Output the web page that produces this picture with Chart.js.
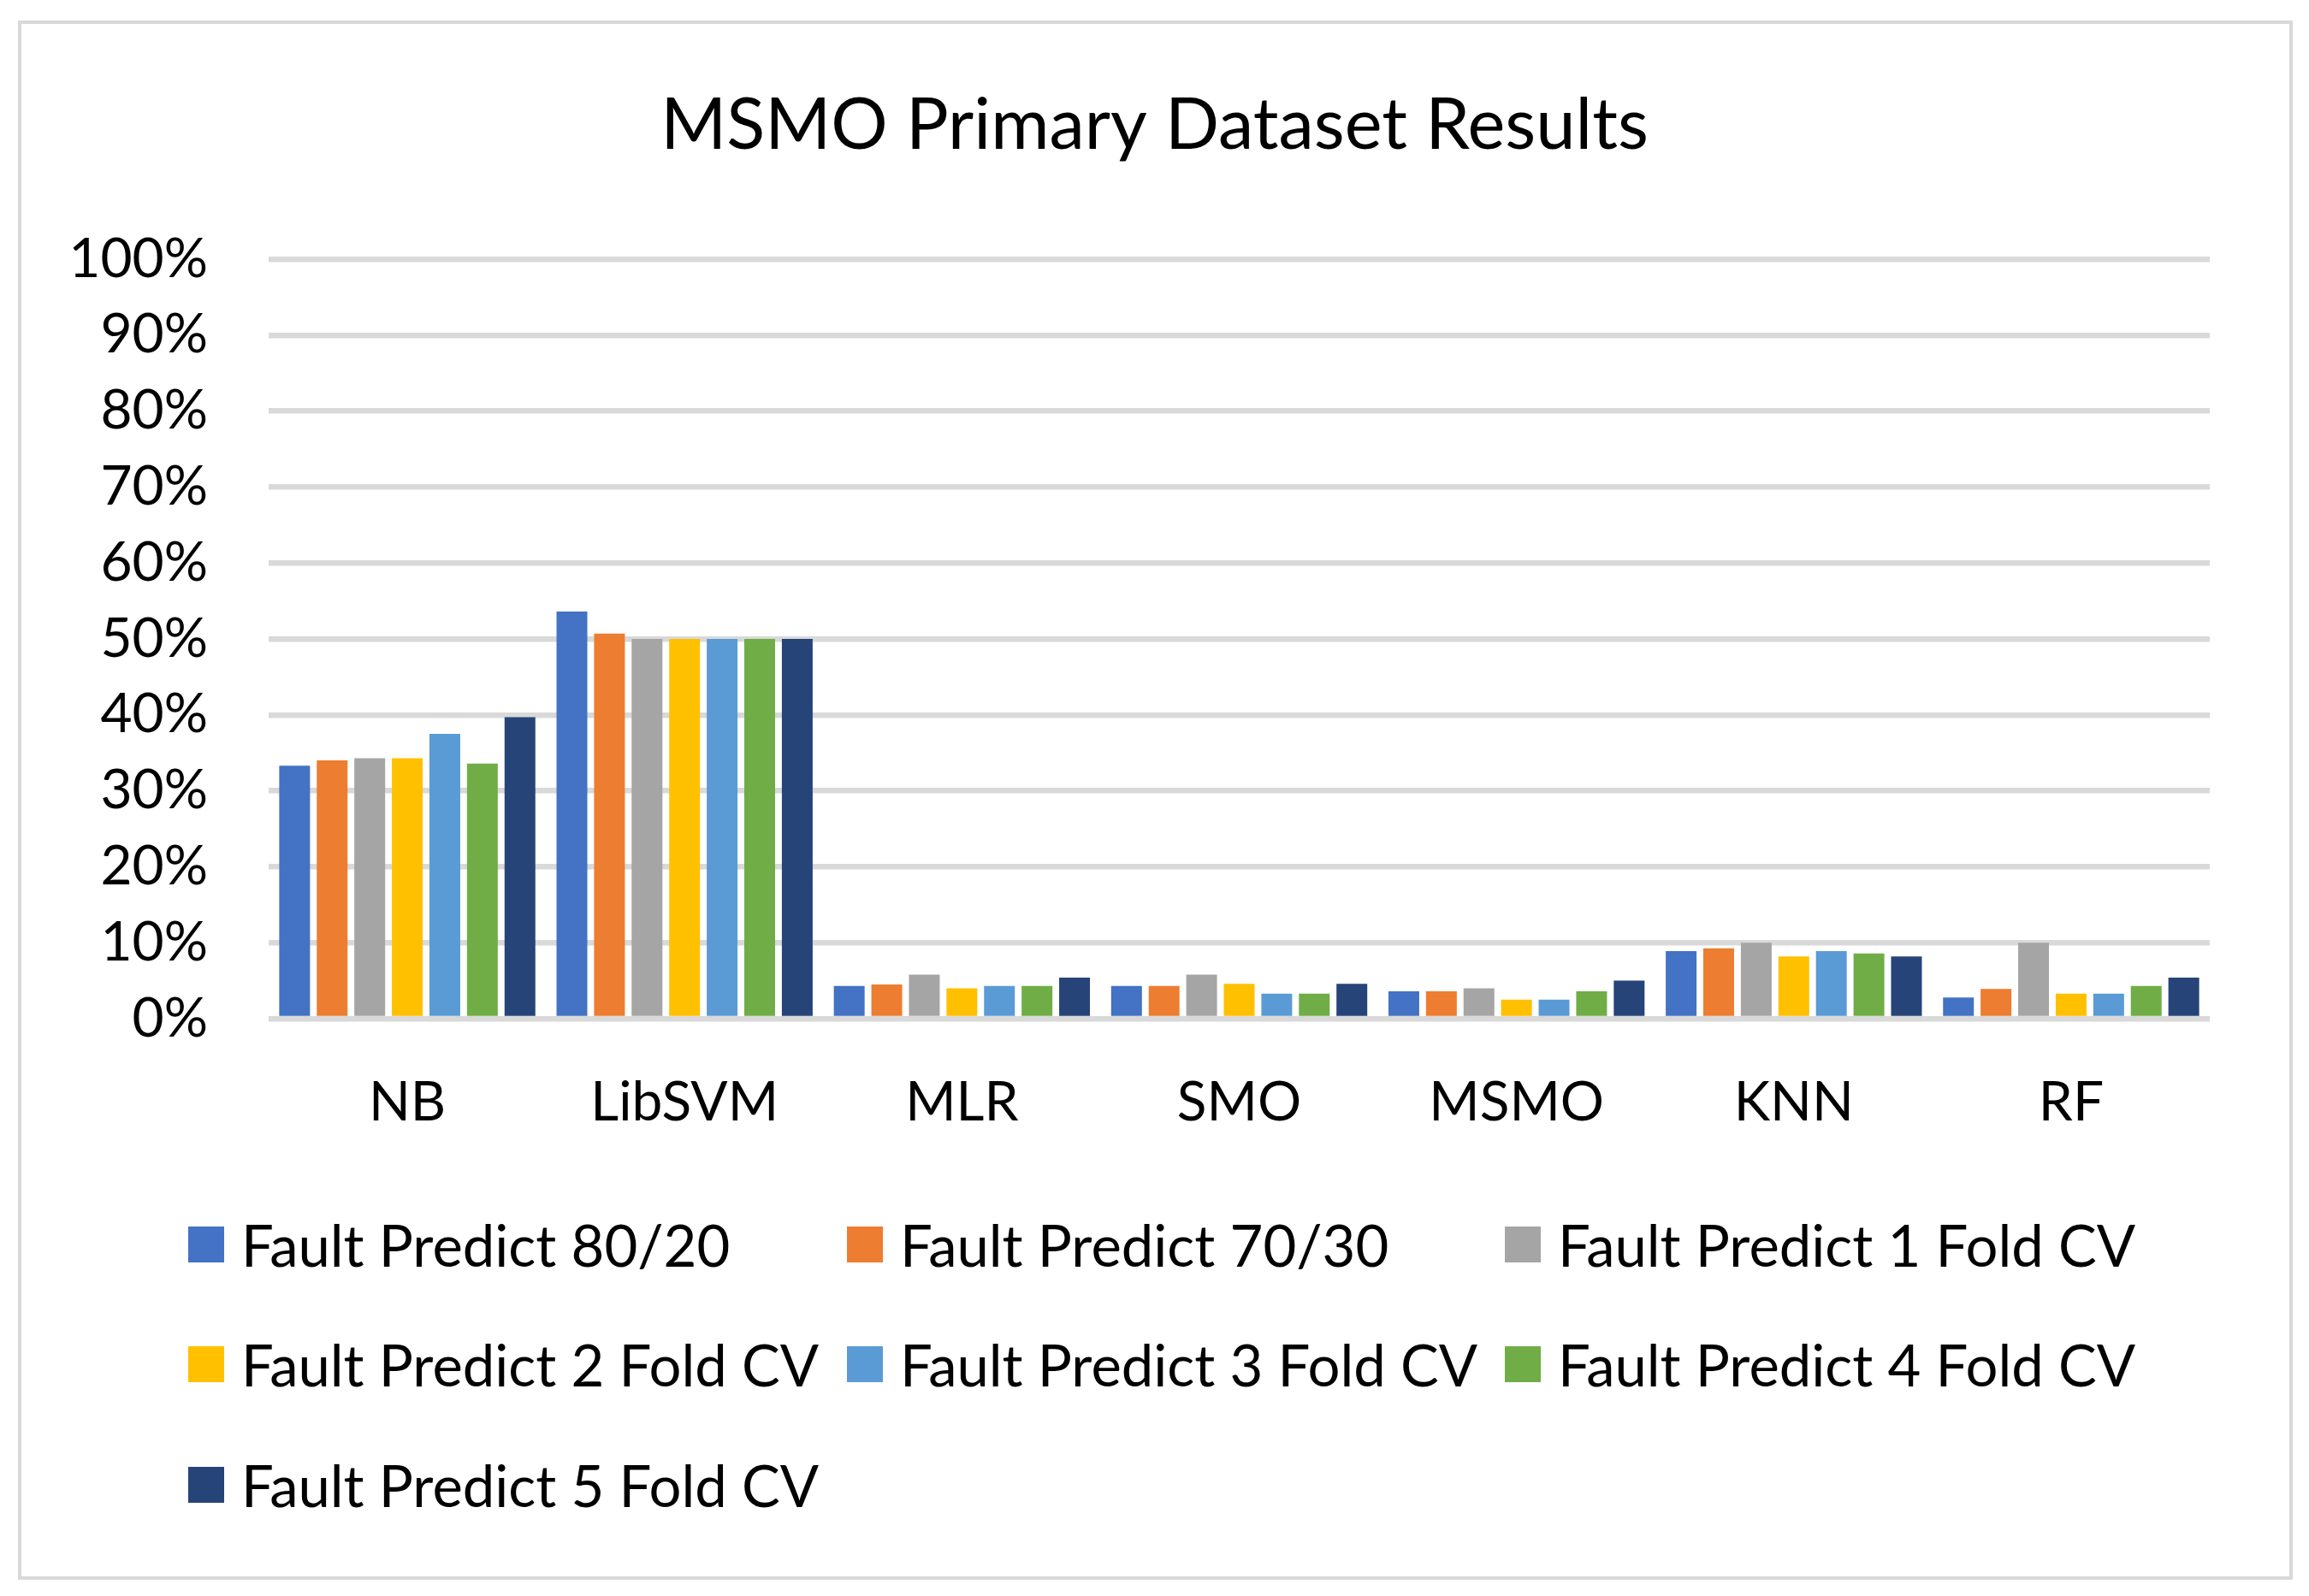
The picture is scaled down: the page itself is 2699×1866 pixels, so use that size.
<!DOCTYPE html>
<html>
<head>
<meta charset="utf-8">
<script src="https://cdn.jsdelivr.net/npm/chart.js@4.4.1/dist/chart.umd.min.js"></script>
<style>
  html, body { margin: 0; padding: 0; background: #fff; }
  #wrap { position: relative; width: 2699px; height: 1866px; overflow: hidden; }
  #frame { position: absolute; left: 21px; top: 24px; width: 2651px; height: 1815px; border: 4px solid #d9d9d9; box-sizing: content-box; }
  canvas { position: absolute; left: 0; top: 0; }
  #legend { position: absolute; left: 0; top: 0; width: 2699px; height: 1866px; pointer-events: none; }
  .item { position: absolute; display: flex; align-items: center; white-space: nowrap; color: #000; }
  .box { width: 42px; height: 42px; margin-right: 20px; flex: none; }
</style>
</head>
<body>
<div id="wrap">
  <div id="frame"></div>
  <canvas id="c" width="2699" height="1866" style="width:2699px;height:1866px"></canvas>
  <div id="legend"></div>
</div>
<script>
const categories = ['NB', 'LibSVM', 'MLR', 'SMO', 'MSMO', 'KNN', 'RF'];
const seriesNames = ['Fault Predict 80/20', 'Fault Predict 70/30', 'Fault Predict 1 Fold CV',
  'Fault Predict 2 Fold CV', 'Fault Predict 3 Fold CV', 'Fault Predict 4 Fold CV', 'Fault Predict 5 Fold CV'];
const fp8020 = [33.3, 53.6, 4.3, 4.3, 3.6, 8.9, 2.8];
const fp7030 = [34.0, 50.7, 4.5, 4.3, 3.6, 9.25, 3.9];
const fp1Fold = [34.3, 50.0, 5.8, 5.8, 4.0, 10.0, 10.0];
const fp2Fold = [34.3, 50.0, 4.0, 4.6, 2.5, 8.2, 3.3];
const fp3Fold = [37.5, 50.0, 4.3, 3.3, 2.5, 8.9, 3.3];
const fp4Fold = [33.6, 50.0, 4.3, 3.3, 3.6, 8.6, 4.3];
const fp5Fold = [39.7, 50.0, 5.4, 4.6, 5.0, 8.2, 5.4];
const yTicks = [0, 10, 20, 30, 40, 50, 60, 70, 80, 90, 100];
const colors = ['#4472C4', '#ED7D31', '#A5A5A5', '#FFC000', '#5B9BD5', '#70AD47', '#264478'];
const chartTitle = 'MSMO Primary Dataset Results';

const seriesValues = [fp8020, fp7030, fp1Fold, fp2Fold, fp3Fold, fp4Fold, fp5Fold];

const FONT = 'Lato';
const TICK_SIZE = 64;
const LEGEND_SIZE = 67;
const TITLE_SIZE = 83;

const datasets = seriesNames.map((name, i) => ({
  label: name,
  data: seriesValues[i],
  backgroundColor: colors[i],
  borderWidth: 0,
  yAxisID: 'y',
  categoryPercentage: 0.948,
  barPercentage: 0.82
}));

new Chart(document.getElementById('c'), {
  type: 'bar',
  data: { labels: categories, datasets },
  options: {
    responsive: false,
    animation: false,
    devicePixelRatio: 1,
    layout: { padding: { left: 60, right: 60, top: 0, bottom: 475 } },
    plugins: {
      legend: { display: false },
      tooltip: { enabled: false },
      title: {
        display: true,
        text: chartTitle,
        color: '#000',
        font: { family: FONT, size: TITLE_SIZE, weight: 'normal', lineHeight: 1.2 },
        padding: { top: 97, bottom: 303 - 97 - TITLE_SIZE * 1.2 }
      }
    },
    scales: {
      x: {
        grid: { display: false, drawTicks: false },
        border: { display: false },
        ticks: { color: '#000', font: { family: FONT, size: TICK_SIZE }, padding: 60 },
        afterFit: (s) => { s.height = 200; }
      },
      y: {
        position: 'left',
        min: 0, max: 100,
        afterBuildTicks: (s) => { s.ticks = yTicks.map(v => ({ value: v })); },
        grid: { color: '#d9d9d9', lineWidth: 6.5, drawTicks: false },
        border: { display: false },
        ticks: { color: '#000', font: { family: FONT, size: TICK_SIZE }, padding: 71,
                 callback: (v) => v + '%' },
        afterFit: (s) => { s.width = 254; }
      },
      yRight: {
        type: 'linear',
        position: 'right',
        min: 0, max: 100,
        grid: { display: false, drawTicks: false },
        border: { display: false },
        ticks: { display: false },
        afterFit: (s) => { s.width = 56; }
      }
    }
  }
});

// HTML legend (3 columns)
const legend = document.getElementById('legend');
const colX = [220, 990, 1759];
const rowY = [1455, 1595, 1736];
seriesNames.forEach((name, i) => {
  const d = document.createElement('div');
  d.className = 'item';
  d.style.left = colX[i % 3] + 'px';
  d.style.top = (rowY[Math.floor(i / 3)] - 50) + 'px';
  d.style.height = '100px';
  d.style.font = LEGEND_SIZE + 'px "' + FONT + '"';
  const b = document.createElement('span');
  b.className = 'box';
  b.style.background = colors[i];
  const t = document.createElement('span');
  t.textContent = name;
  d.appendChild(b); d.appendChild(t);
  legend.appendChild(d);
});
</script>
</body>
</html>
